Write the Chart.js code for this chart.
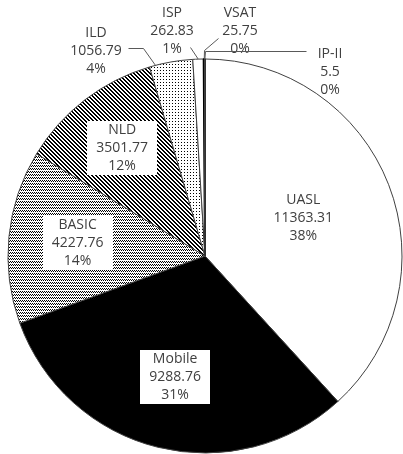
<!DOCTYPE html>
<html>
<head>
<meta charset="utf-8">
<style>
  html, body { margin: 0; padding: 0; background: #fff; }
  #wrap { width: 403px; height: 454px; overflow: hidden; }
  canvas { display: block; }
</style>
<script src="https://cdn.jsdelivr.net/npm/chart.js@4.4.1/dist/chart.umd.min.js"></script>
</head>
<body>
<div id="wrap"><canvas id="pie" width="403" height="470"></canvas></div>
<script>
(function () {
  'use strict';

  // Data, clockwise from 12 o'clock.
  const categories = ['UASL', 'Mobile', 'BASIC', 'NLD', 'ILD', 'ISP', 'VSAT', 'IP-II'];
  const values = [11363.31, 9288.76, 4227.76, 3501.77, 1056.79, 262.83, 25.75, 5.5];

  const TEXT = '#404040';
  const LEADER = '#595959';
  const FONT = '14px "Open Sans", "Noto Sans", sans-serif';
  const LINE_H = 18;

  // Small tile patterns, like the old Excel fills.
  function tile(w, h, on) {
    const c = document.createElement('canvas');
    c.width = w; c.height = h;
    const g = c.getContext('2d');
    g.fillStyle = '#fff';
    g.fillRect(0, 0, w, h);
    g.fillStyle = '#000';
    for (let y = 0; y < h; y++) {
      for (let x = 0; x < w; x++) {
        if (on(x, y)) g.fillRect(x, y, 1, 1);
      }
    }
    return g.createPattern(c, 'repeat');
  }

  const checker = tile(2, 3, (x, y) => (y === 0 && x === 0) || (y === 1 && x === 1));
  const stripes = tile(4, 4, (x, y) => ((x - y + 8) % 4) < 2);
  const dots = tile(3, 3, (x, y) => x === 1 && y === 1);

  const fills = ['#ffffff', '#000000', checker, stripes, dots, '#ffffff', '#000000', '#ffffff'];
  const edges = ['#404040', '#404040', '#404040', '#404040', '#404040', '#404040', '#000000', '#404040'];
  const edgeWidths = [1, 1, 1, 1, 1, 1, 2, 1];

  // Label placement: inside labels sit on the slice's mid angle at a share of
  // the radius; outside ones get a leader line (offsets from the pie centre).
  const insideAt = { UASL: 0.535, Mobile: 0.635, BASIC: 0.65, NLD: 0.69 };
  const boxed = { Mobile: true, BASIC: true, NLD: true };
  const outside = {
    ILD:    { text: [-109, -205], line: [[-77, -208], [-62, -208]], along: 0.14 },
    ISP:    { text: [-33, -225], line: [[-15, -209]], along: 0.5 },
    VSAT:   { text: [35, -225], line: [[13, -218], [-1, -206]], along: 0.5 },
    'IP-II': { text: [125, -184], line: [[101, -205], [0, -205]], along: 0.5 },
  };

  const total = values.reduce((a, b) => a + b, 0);

  function labelLines(i) {
    return [categories[i], String(values[i]), Math.round(values[i] / total * 100) + '%'];
  }

  function drawLines(ctx, lines, x, y, box) {
    ctx.font = FONT;
    if (box) {
      const w = Math.max(...lines.map((t) => ctx.measureText(t).width)) + 18;
      const h = lines.length * LINE_H;
      ctx.fillStyle = '#fff';
      ctx.fillRect(Math.round(x - w / 2), Math.round(y - h / 2), Math.round(w), h);
    }
    ctx.fillStyle = TEXT;
    ctx.textAlign = 'center';
    ctx.textBaseline = 'middle';
    lines.forEach((t, k) => {
      ctx.fillText(t, x, y + (k - (lines.length - 1) / 2) * LINE_H);
    });
  }

  const labelPlugin = {
    id: 'sliceLabels',
    afterDatasetsDraw(chart) {
      const ctx = chart.ctx;
      const arcs = chart.getDatasetMeta(0).data;
      ctx.save();
      arcs.forEach((arc, i) => {
        const name = categories[i];
        const p = arc.getProps(['x', 'y', 'startAngle', 'endAngle', 'outerRadius'], true);
        const lines = labelLines(i);
        if (insideAt[name] !== undefined) {
          const mid = (p.startAngle + p.endAngle) / 2;
          const r = p.outerRadius * insideAt[name];
          drawLines(ctx, lines, p.x + Math.cos(mid) * r, p.y + Math.sin(mid) * r, boxed[name]);
          return;
        }
        const o = outside[name];
        if (!o) return;
        const a = p.startAngle + (p.endAngle - p.startAngle) * o.along;
        const end = [p.x + Math.cos(a) * p.outerRadius, p.y + Math.sin(a) * p.outerRadius];
        ctx.strokeStyle = LEADER;
        ctx.lineWidth = 1;
        ctx.beginPath();
        o.line.forEach(([dx, dy], k) => {
          const x = Math.round(p.x + dx) + 0.5;
          const y = Math.round(p.y + dy) + 0.5;
          if (k === 0) ctx.moveTo(x, y); else ctx.lineTo(x, y);
        });
        ctx.lineTo(end[0], end[1]);
        ctx.stroke();
        drawLines(ctx, lines, p.x + o.text[0], p.y + o.text[1], false);
      });
      ctx.restore();
    },
  };

  new Chart(document.getElementById('pie'), {
    type: 'pie',
    data: {
      labels: categories,
      datasets: [{
        data: values,
        backgroundColor: fills,
        borderColor: edges,
        borderWidth: edgeWidths,
      }],
    },
    options: {
      responsive: false,
      animation: false,
      devicePixelRatio: 1,
      events: [],
      layout: { padding: { left: 7, right: 0, top: 58, bottom: 16 } },
      plugins: { legend: { display: false }, tooltip: { enabled: false } },
    },
    plugins: [labelPlugin],
  });
})();
</script>
</body>
</html>
